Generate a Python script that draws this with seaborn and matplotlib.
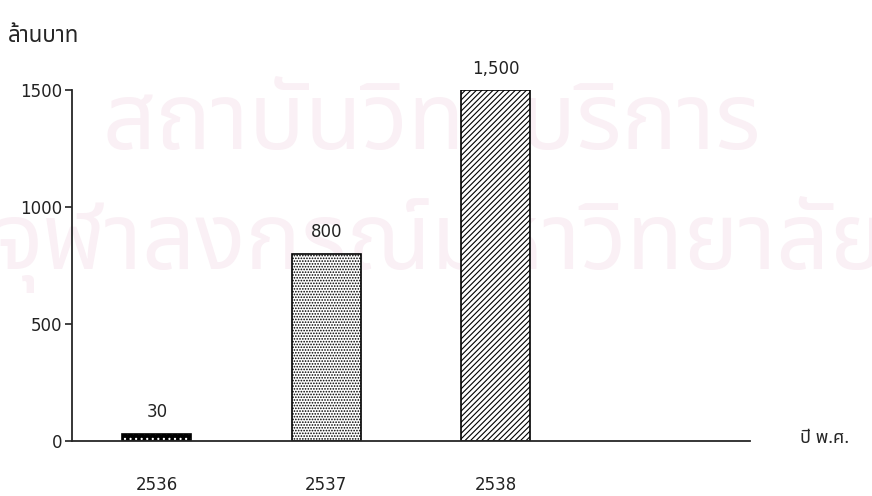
import matplotlib
matplotlib.use("Agg")
import matplotlib.pyplot as plt
from matplotlib import font_manager as fm
import seaborn as sns
import pandas as pd

years = ["2536", "2537", "2538"]
values = [30, 800, 1500]
value_labels = ["30", "800", "1,500"]
hatches = ["...", "......", "//////"]

sns.set_style("white")
# pick an installed font that has Thai glyphs
installed = {f.name for f in fm.fontManager.ttflist}
thai = next((n for n in ["Noto Sans Thai", "Noto Sans Thai Looped", "Sarabun",
                         "Loma", "Garuda", "Kanit", "Athiti"] if n in installed), "DejaVu Sans")
plt.rcParams['font.family'] = ['DejaVu Sans']
plt.rcParams['hatch.linewidth'] = 0.8

df = pd.DataFrame({"year": years, "value": values})

fig = plt.figure(figsize=(8.72, 4.96), dpi=100)
ax = fig.add_axes([72 / 872, 55 / 496, 678 / 872, 351 / 496])
ax.patch.set_alpha(0)
ax.set_zorder(1)

# faint watermark behind the chart
wm = "#faf0f5"
fig.text(0.118, 0.75, "สถาบันวิทยบริการ", family=thai, fontsize=67, color=wm,
         ha="left", va="center", zorder=-1)
fig.text(-0.008, 0.508, "จุฬาลงกรณ์มหาวิทยาลัย", family=thai, fontsize=67, color=wm,
         ha="left", va="center", zorder=-1)

sns.barplot(data=df, x="year", y="value", color="white", width=0.41,
            edgecolor="black", linewidth=1.2, ax=ax)
for p, h in zip(ax.patches, hatches):
    p.set_hatch(h)
ax.patches[0].set_facecolor("black")
ax.patches[0]._hatch_color = (1, 1, 1, 1)

for i, (v, t) in enumerate(zip(values, value_labels)):
    ax.annotate(t, (i, v), xytext=(0, 9), textcoords="offset points",
                ha="center", va="bottom", fontsize=12, color="#222222")

ax.set_xlim(-0.5, 3.5)
ax.set_ylim(0, 1500)
ax.set_yticks([0, 500, 1000, 1500])
ax.set_xlabel("")
ax.set_ylabel("")
sns.despine(ax=ax)
ax.spines["left"].set_linewidth(1.3)
ax.spines["bottom"].set_linewidth(1.3)
ax.tick_params(axis="y", left=True, length=5, width=1.2, labelsize=12, pad=2,
               colors="#222222")
ax.tick_params(axis="x", bottom=False, labelsize=12, pad=22, colors="#222222")

fig.text(8 / 872, 1 - 37 / 496, "ล้านบาท", family=thai, fontsize=16,
         ha="left", va="center")
fig.text(800 / 872, 1 - 438 / 496, "ปี พ.ศ.", family=thai, fontsize=13,
         ha="left", va="center")

fig.savefig("out.png")
